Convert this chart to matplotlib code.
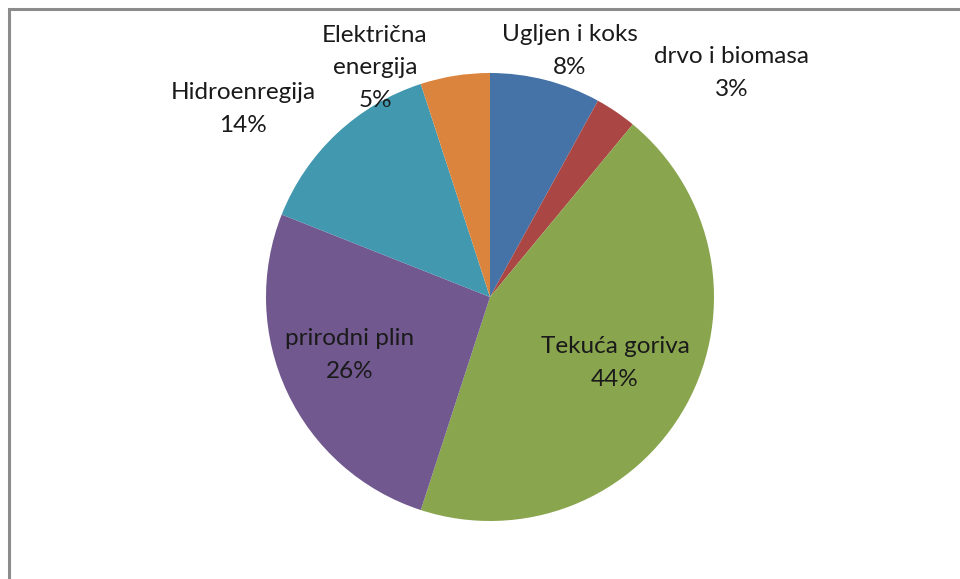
import matplotlib.pyplot as plt
from matplotlib.patches import Rectangle

# -------------------------------------------------------------
# Data
# -------------------------------------------------------------
labels = ['Ugljen i koks', 'drvo i biomasa', 'Tekuća goriva',
          'prirodni plin', 'Hidroenregija', 'Električna\nenergija']
shares = [8, 3, 44, 26, 14, 5]
colors = ['#4572A7', '#AA4643', '#89A54E', '#71588F', '#4198AF', '#DB843D']

# label anchor points (pixel coords, y measured from top)
label_pos = [(570, 51), (732, 73), (615, 363), (350, 355), (243, 109), (375, 68)]

W, H = 960, 579

fig = plt.figure(figsize=(W / 100, H / 100), dpi=100)
ax = fig.add_axes([0, 0, 1, 1])

# pie, starting at 12 o'clock, clockwise
ax.pie(shares, colors=colors, startangle=90, counterclock=False,
       center=(490, H - 297), radius=224, frame=True,
       wedgeprops=dict(linewidth=0))
ax.set_xlim(0, W)
ax.set_ylim(0, H)
ax.set_aspect('equal')
ax.axis('off')

# outer chart frame
ax.add_patch(Rectangle((9, -10), W + 20, H - 9 + 10, fill=False,
                       edgecolor='#8c8c8c', linewidth=2.2))

for lab, val, (px, py) in zip(labels, shares, label_pos):
    ax.text(px, H - py, f'{lab}\n{val}%', ha='center', va='center',
            fontsize=17.5, family='Lato', color='#1a1a1a', linespacing=1.65)

plt.savefig('out.png', dpi=100)
